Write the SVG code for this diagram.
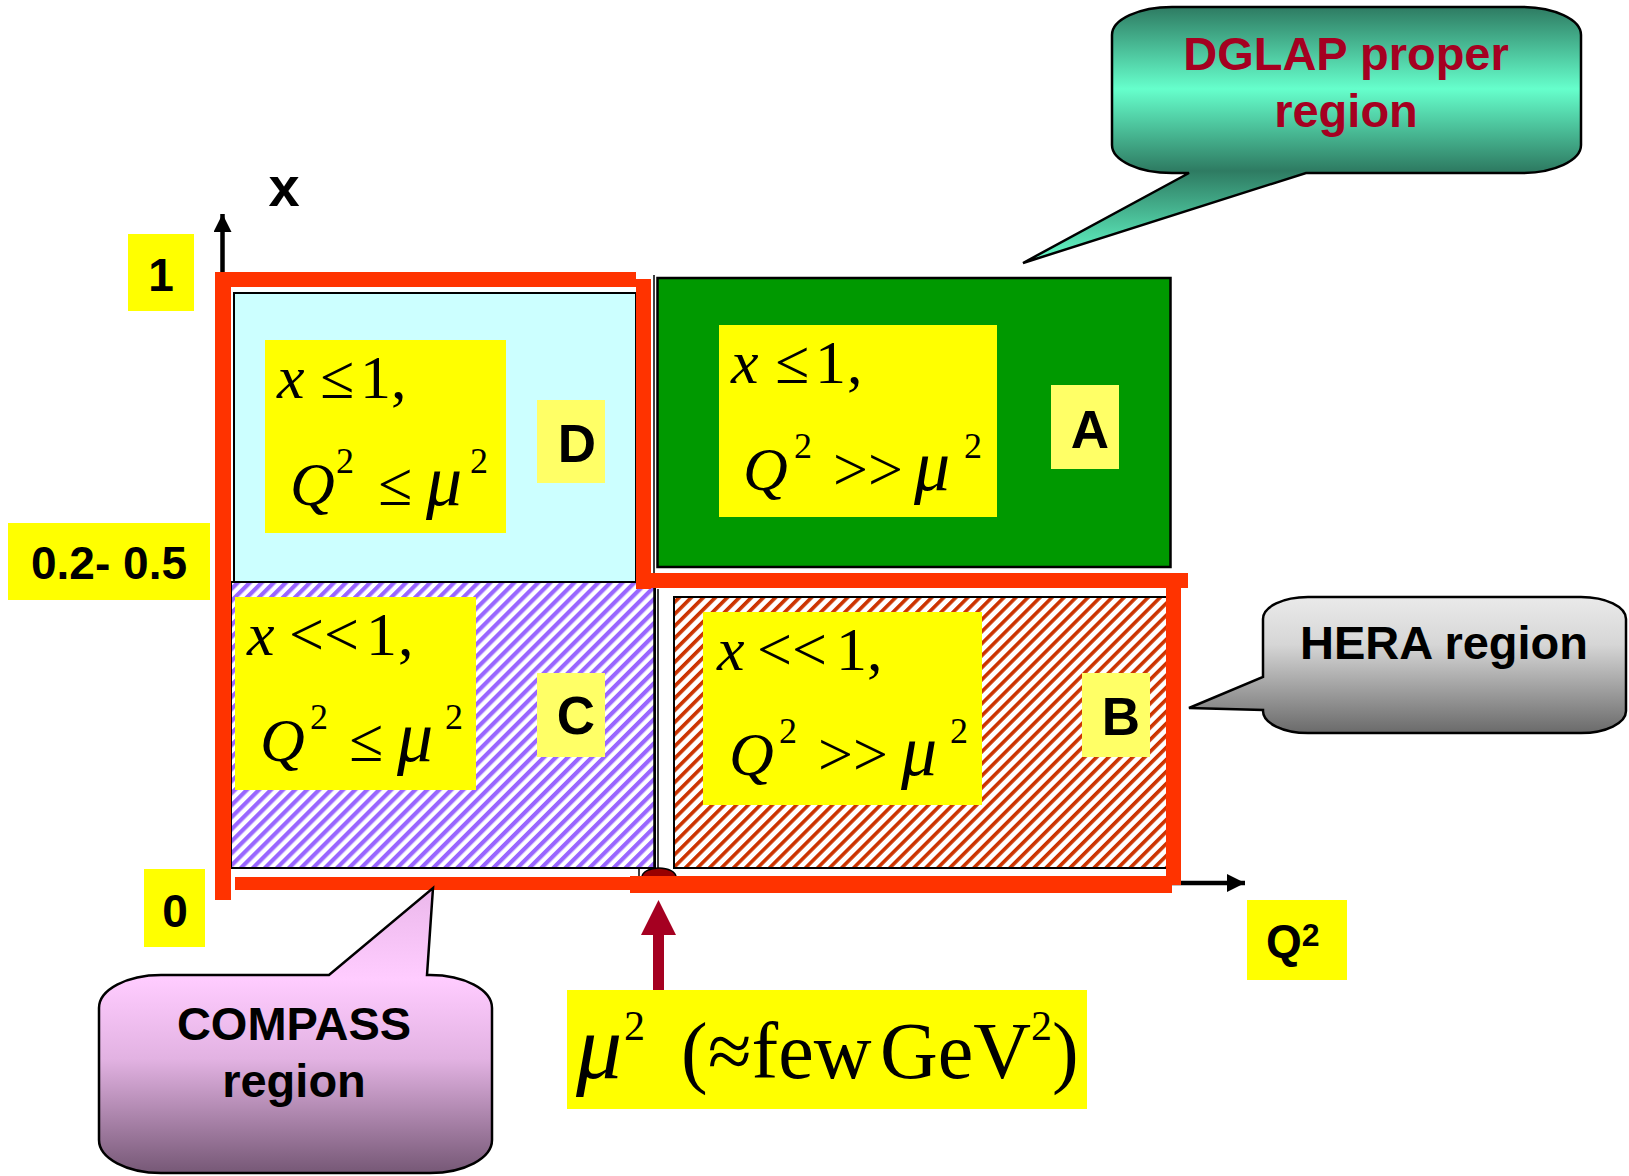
<svg xmlns="http://www.w3.org/2000/svg" width="1629" height="1176" viewBox="0 0 1629 1176">
<defs>
<style>
.lbl{font-family:"Liberation Sans",Arial,sans-serif;font-weight:bold;fill:#000}
.math{font-family:"Liberation Serif","Times New Roman",serif;font-size:62px;fill:#000}
.it{font-style:italic}
.mu{font-style:italic;font-size:72px}
.sup{font-size:36px}
.yb{fill:#FFFF00}
.lb{fill:#FFFF66}
.red{fill:#FF3300}
.call{stroke:#000;stroke-width:2.5}
</style>
<pattern id="hatchC" width="8.5" height="8.5" patternUnits="userSpaceOnUse" patternTransform="rotate(45)">
<rect width="8.5" height="8.5" fill="#fff"/><rect width="4.2" height="8.5" fill="#9966FF"/>
</pattern>
<pattern id="hatchB" width="8.5" height="8.5" patternUnits="userSpaceOnUse" patternTransform="rotate(45)">
<rect width="8.5" height="8.5" fill="#fff"/><rect width="3.6" height="8.5" fill="#CC3300"/>
</pattern>
<linearGradient id="gDG" gradientUnits="userSpaceOnUse" x1="0" y1="7" x2="0" y2="263">
<stop offset="0" stop-color="#2E7B62"/><stop offset="0.32" stop-color="#66FFCC"/><stop offset="0.64" stop-color="#2E7B62"/><stop offset="1" stop-color="#66FFCC"/>
</linearGradient>
<linearGradient id="gHE" x1="0" y1="0" x2="0" y2="1">
<stop offset="0" stop-color="#EAEAEA"/><stop offset="0.35" stop-color="#D6D6D6"/><stop offset="1" stop-color="#6A6A6A"/>
</linearGradient>
<linearGradient id="gCO" gradientUnits="userSpaceOnUse" x1="0" y1="888" x2="0" y2="1173">
<stop offset="0" stop-color="#EBB8EB"/><stop offset="0.32" stop-color="#FFCCFF"/><stop offset="0.6" stop-color="#E2B2E2"/><stop offset="1" stop-color="#765876"/>
</linearGradient>
<marker id="ah" viewBox="0 0 10 10" refX="10" refY="5" markerWidth="4" markerHeight="4" orient="auto" markerUnits="strokeWidth">
<path d="M0,0 L10,5 L0,10 Z" fill="#000"/>
</marker>
</defs>
<rect width="1629" height="1176" fill="#fff"/>

<g id="axes">
<line x1="222.5" y1="272" x2="222.5" y2="214" stroke="#000" stroke-width="4.5" marker-end="url(#ah)"/>
<line x1="1172" y1="883" x2="1245" y2="883" stroke="#000" stroke-width="4.5" marker-end="url(#ah)"/>
</g>

<g id="region-D">
<rect x="234" y="293" width="402" height="289" fill="#CCFFFF" stroke="#000" stroke-width="2"/>
<rect class="yb" x="265" y="340" width="241" height="193"/>
<text class="math" y="398"><tspan class="it" x="277">x</tspan><tspan x="320">≤</tspan><tspan x="360">1</tspan><tspan x="391">,</tspan></text>
<text class="math" y="505"><tspan class="it" x="290">Q</tspan><tspan class="sup" x="336" y="473">2</tspan><tspan x="378" y="505">≤</tspan><tspan class="mu" x="426">μ</tspan><tspan class="sup" x="470" y="473">2</tspan></text>
<rect class="lb" x="537" y="400" width="68" height="83"/>
<text class="lbl" x="577" y="462" font-size="53" text-anchor="middle">D</text>
</g>

<g id="region-A">
<rect x="657.5" y="278" width="513" height="289" fill="#009900" stroke="#000" stroke-width="2.5"/>
<rect class="yb" x="719" y="325" width="278" height="192"/>
<text class="math" y="383"><tspan class="it" x="731">x</tspan><tspan x="775">≤</tspan><tspan x="815">1</tspan><tspan x="847">,</tspan></text>
<text class="math" y="490"><tspan class="it" x="743">Q</tspan><tspan class="sup" x="794" y="458">2</tspan><tspan x="833" y="490">&gt;&gt;</tspan><tspan class="mu" x="914">μ</tspan><tspan class="sup" x="964" y="458">2</tspan></text>
<rect class="lb" x="1051" y="385" width="68" height="84"/>
<text class="lbl" x="1090" y="448" font-size="53" text-anchor="middle">A</text>
</g>

<g id="region-C">
<rect x="231" y="582" width="424" height="286" fill="url(#hatchC)" stroke="#000" stroke-width="2"/>
<rect class="yb" x="235" y="597" width="241" height="193"/>
<text class="math" y="655"><tspan class="it" x="247">x</tspan><tspan x="289">&lt;&lt;</tspan><tspan x="366">1</tspan><tspan x="398">,</tspan></text>
<text class="math" y="761"><tspan class="it" x="260">Q</tspan><tspan class="sup" x="310" y="729">2</tspan><tspan x="349" y="761">≤</tspan><tspan class="mu" x="397">μ</tspan><tspan class="sup" x="445" y="729">2</tspan></text>
<rect class="lb" x="537" y="673" width="68" height="84"/>
<text class="lbl" x="576" y="734" font-size="53" text-anchor="middle">C</text>
</g>

<g id="region-B">
<rect x="674" y="597" width="494" height="271" fill="url(#hatchB)" stroke="#000" stroke-width="2"/>
<rect class="yb" x="703" y="612" width="279" height="193"/>
<text class="math" y="670"><tspan class="it" x="717">x</tspan><tspan x="757">&lt;&lt;</tspan><tspan x="836">1</tspan><tspan x="867">,</tspan></text>
<text class="math" y="775"><tspan class="it" x="729">Q</tspan><tspan class="sup" x="779" y="743">2</tspan><tspan x="818" y="775">&gt;&gt;</tspan><tspan class="mu" x="901">μ</tspan><tspan class="sup" x="950" y="743">2</tspan></text>
<rect class="lb" x="1082" y="673" width="68" height="84"/>
<text class="lbl" x="1121" y="735" font-size="53" text-anchor="middle">B</text>
</g>

<g id="dividers" stroke="#000" stroke-width="1.5">
<line x1="654" y1="275" x2="654" y2="868"/>
<line x1="658" y1="589" x2="658" y2="868"/>
<line x1="639" y1="868" x2="639" y2="877"/>
</g>

<g id="frame">
<rect class="red" x="215" y="272" width="16" height="628"/>
<rect class="red" x="215" y="272" width="421" height="15"/>
<rect class="red" x="636" y="279" width="15" height="310"/>
<rect class="red" x="636" y="573" width="552" height="15"/>
<rect class="red" x="1166" y="588" width="15" height="297"/>
<rect class="red" x="235" y="877" width="400" height="13"/>
<path d="M642,877 A17,9 0 0 1 676,877 Z" fill="#990000" stroke="#000" stroke-width="1.5"/>
<rect class="red" x="630" y="876" width="542" height="17"/>
</g>

<g id="axis-labels">
<text class="lbl" x="284" y="206" font-size="56" text-anchor="middle">x</text>
<rect class="yb" x="128" y="234" width="66" height="77"/>
<text class="lbl" x="161" y="291" font-size="46" text-anchor="middle">1</text>
<rect class="yb" x="8" y="523" width="202" height="77"/>
<text class="lbl" x="109" y="579" font-size="46" text-anchor="middle">0.2- 0.5</text>
<rect class="yb" x="144" y="869" width="61" height="78"/>
<text class="lbl" x="175" y="927" font-size="46" text-anchor="middle">0</text>
<rect class="yb" x="1247" y="900" width="100" height="80"/>
<text class="lbl" x="1266" y="957" font-size="46">Q<tspan font-size="32" y="946">2</tspan></text>
</g>

<g id="callout-dglap">
<path class="call" fill="url(#gDG)" d="M1172,7 H1521 A60,28 0 0 1 1581,35 V145 A60,28 0 0 1 1521,173 H1306 L1023,263 L1189,173 H1172 A60,28 0 0 1 1112,145 V35 A60,28 0 0 1 1172,7 Z"/>
<text class="lbl" x="1346" y="70" font-size="47" text-anchor="middle" style="fill:#A50021">DGLAP proper</text>
<text class="lbl" x="1346" y="127" font-size="47" text-anchor="middle" style="fill:#A50021">region</text>
</g>

<g id="callout-hera">
<path class="call" fill="url(#gHE)" d="M1308,597 H1581 A45,22 0 0 1 1626,619 V711 A45,22 0 0 1 1581,733 H1308 A45,22 0 0 1 1263,711 V710 L1189,708 L1263,677 V619 A45,22 0 0 1 1308,597 Z"/>
<text class="lbl" x="1444" y="659" font-size="47" text-anchor="middle">HERA region</text>
</g>

<g id="callout-compass">
<path class="call" fill="url(#gCO)" d="M161,975 H329 L433,888 L427,975 H430 A62,33 0 0 1 492,1008 V1140 A62,33 0 0 1 430,1173 H161 A62,33 0 0 1 99,1140 V1008 A62,33 0 0 1 161,975 Z"/>
<text class="lbl" x="294" y="1040" font-size="47" text-anchor="middle">COMPASS</text>
<text class="lbl" x="294" y="1097" font-size="47" text-anchor="middle">region</text>
</g>

<g id="connectors">
<rect x="653" y="933" width="11" height="57" fill="#A50021"/>
<path d="M658.5,900 L676,935 L641,935 Z" fill="#A50021"/>
</g>

<g id="mu-label">
<rect class="yb" x="567" y="990" width="520" height="119"/>
<text font-family="Liberation Serif, Times New Roman, serif" font-size="80" y="1078" fill="#000"><tspan font-style="italic" font-size="92" x="576">μ</tspan><tspan font-size="42" x="624" y="1040">2</tspan><tspan x="681" y="1078">(≈few</tspan><tspan x="880">GeV</tspan><tspan font-size="42" x="1031" y="1040">2</tspan><tspan x="1052" y="1078">)</tspan></text>
</g>
</svg>
